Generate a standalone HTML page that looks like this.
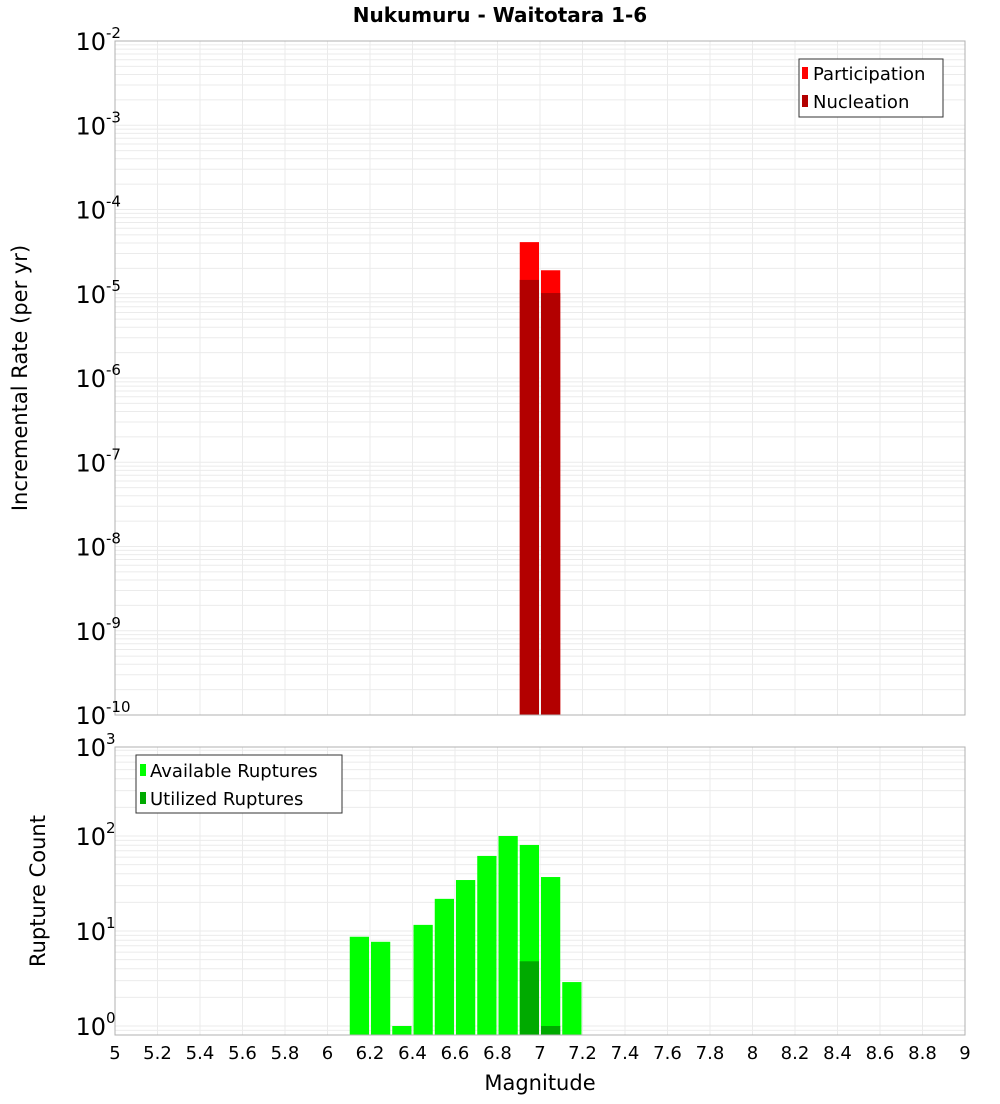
<!DOCTYPE html>
<html><head><meta charset="utf-8"><style>
body{margin:0;background:#fff;font-family:"DejaVu Sans","Liberation Sans",sans-serif;}
svg text{font-family:"DejaVu Sans","Liberation Sans",sans-serif;}
</style></head><body>
<svg id="chart" width="1000" height="1100" xmlns="http://www.w3.org/2000/svg">
<text x="500" y="22" text-anchor="middle" font-size="20" font-weight="bold">Nukumuru - Waitotara 1-6</text>
<g id="gtop"></g><g id="gbot"></g>
<text transform="translate(27,378) rotate(-90)" text-anchor="middle" font-size="21">Incremental Rate (per yr)</text>
<text transform="translate(45,891) rotate(-90)" text-anchor="middle" font-size="21">Rupture Count</text>
<text x="540" y="1090" text-anchor="middle" font-size="21">Magnitude</text>
<g>
<rect x="799" y="59" width="144" height="58" fill="#fff" stroke="#333"/>
<rect x="802" y="67" width="6" height="12" fill="#ff0000"/><text x="813" y="80" font-size="18">Participation</text>
<rect x="802" y="95" width="6" height="12" fill="#b30000"/><text x="813" y="108" font-size="18">Nucleation</text>
</g>
<g>
<rect x="136" y="755" width="206" height="58" fill="#fff" stroke="#333"/>
<rect x="140" y="764" width="6" height="12" fill="#00ff00"/><text x="150" y="777" font-size="18">Available Ruptures</text>
<rect x="140" y="792" width="6" height="12" fill="#00aa00"/><text x="150" y="805" font-size="18">Utilized Ruptures</text>
</g>
</svg>
<script>
const xTicks=[5,5.2,5.4,5.6,5.8,6,6.2,6.4,6.6,6.8,7,7.2,7.4,7.6,7.8,8,8.2,8.4,8.6,8.8,9];
const rateMags=[6.9,7.0];
const participation=[4.1e-5,1.9e-5];
const nucleation=[1.46e-5,1.02e-5];
const countMags=[6.1,6.2,6.3,6.4,6.5,6.6,6.7,6.8,6.9,7.0,7.1];
const available=[8.7,7.7,1,11.6,21.8,34.4,61.7,100,80.5,37,2.9];
const utilizedMags=[6.9,7.0];
const utilized=[4.8,1];
const topDecades=[-2,-3,-4,-5,-6,-7,-8,-9,-10];
const botDecades=[3,2,1,0];

const NS="http://www.w3.org/2000/svg";
const X0=115,X1=965;
const xs=m=>X0+(m-5)/4*(X1-X0);
const yTop=v=>41+(-2-Math.log10(v))*84.25;
const yBot=v=>1026-Math.log10(v)*95;
function mk(p,t,a){const e=document.createElementNS(NS,t);for(const k in a)e.setAttribute(k,a[k]);p.appendChild(e);return e;}
function panel(g,y0,y1,yf,dmin,dmax,name){
  mk(g,'rect',{x:X0,y:y0,width:X1-X0,height:y1-y0,fill:'#fff'});
  for(let d=dmin;d<dmax;d++)for(let k=1;k<10;k++){const y=yf(k*Math.pow(10,d));if(y>=y0&&y<=y1){const l=mk(g,'line',{x1:X0,x2:X1,y1:y,y2:y,stroke:'#ebebeb'});

}}
  xTicks.forEach(t=>{const x=xs(t);const l=mk(g,'line',{x1:x,x2:x,y1:y0,y2:y1,stroke:'#ebebeb'});

});
}
function bar(g,m,v,yf,base,fill,name){const x=xs(m)+1,w=xs(m+0.1)-xs(m)-2;const y=yf(v);const r=mk(g,'rect',{x:x,y:y,width:w,height:Math.max(0,base-y),fill:fill});

}
const gTop=document.getElementById('gtop'),gBot=document.getElementById('gbot');
panel(gTop,41,715,yTop,-10,-2,'top');
rateMags.forEach((m,i)=>bar(gTop,m,participation[i],yTop,715,'#ff0000','participation-bar'));
rateMags.forEach((m,i)=>bar(gTop,m,nucleation[i],yTop,715,'#b30000','nucleation-bar'));
mk(gTop,'rect',{x:X0,y:41,width:X1-X0,height:674,fill:'none',stroke:'#b0b0b0'});
topDecades.forEach(d=>{const y=yTop(Math.pow(10,d));const t=mk(gTop,'text',{x:106,y:y+9,'text-anchor':'end','font-size':24});


t.textContent='10';const s=mk(gTop,'text',{x:106,y:y-3,'font-size':15});s.textContent=String(d);});
panel(gBot,747,1035,yBot,-1,3,'bottom');
countMags.forEach((m,i)=>bar(gBot,m,available[i],yBot,1035,'#00ff00','available-bar'));
utilizedMags.forEach((m,i)=>bar(gBot,m,utilized[i],yBot,1035,'#00aa00','utilized-bar'));
mk(gBot,'rect',{x:X0,y:747,width:X1-X0,height:288,fill:'none',stroke:'#b0b0b0'});
botDecades.forEach(d=>{const y=Math.min(yBot(Math.pow(10,d)),1026)-(d==3?-6:0);const t=mk(gBot,'text',{x:106,y:y+9,'text-anchor':'end','font-size':24});


t.textContent='10';const s=mk(gBot,'text',{x:106,y:y-3,'font-size':15});s.textContent=String(d);});
xTicks.forEach(t=>{const e=mk(gBot,'text',{x:xs(t),y:1059,'text-anchor':'middle','font-size':18});


e.textContent=String(t);});
</script>
</body></html>
